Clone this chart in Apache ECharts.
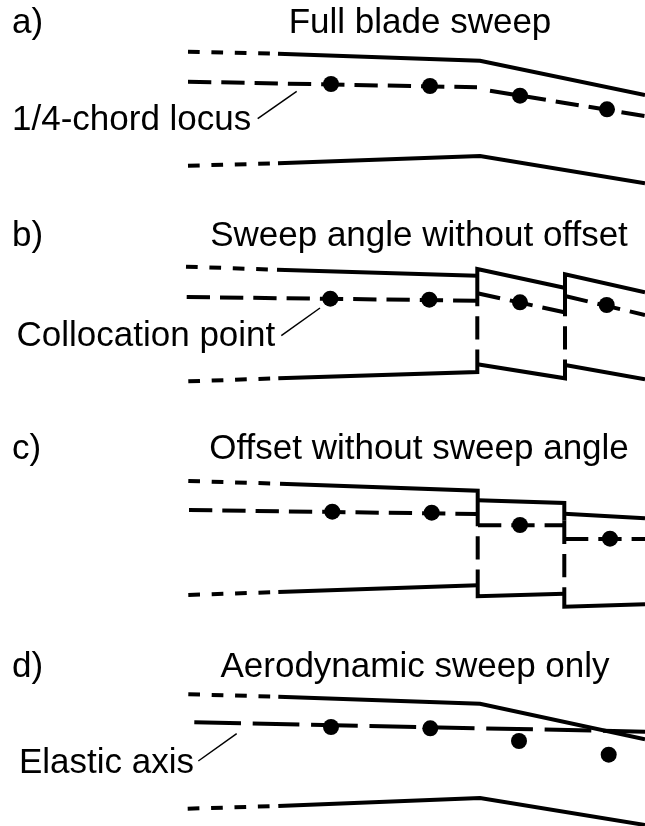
<!DOCTYPE html>
<html lang="en">

<head>
    <meta charset="UTF-8">
    <title>Blade sweep</title>
    <style>
        html, body { margin: 0; padding: 0; background: #fff; }
        #box { width: 645px; height: 826px; }
    </style>
</head>

<body>
    <div id="box"></div>
</body>
<script src="https://cdn.jsdelivr.net/npm/echarts@6/dist/echarts.min.js"></script>
<script>
    // solid outline pieces
    var solidLines = [
        // a
        [[278, 53.7], [480, 60.7], [645, 95]],
        [[278, 163.3], [480, 156], [645, 183.3]],
        // b
        [[277, 269.7], [477.3, 275.7]],
        [[477.3, 283], [477.3, 269], [564.3, 287.7]],
        [[565, 293], [565, 274.3], [645, 292.3]],
        [[278.3, 378.3], [477.3, 372], [477.3, 356]],
        [[477.3, 364.3], [565, 378.3], [565, 363]],
        [[565, 365], [645, 379.3]],
        // c
        [[280, 483.7], [477.7, 490.7], [477.7, 503]],
        [[477.7, 500.3], [564.3, 503], [564.3, 520.7]],
        [[564.3, 513.7], [645, 518.3]],
        [[278.3, 592], [477.7, 585.3]],
        [[477.7, 577], [477.7, 596.3], [564.3, 593.7]],
        [[564.3, 590], [564.3, 606.7], [645, 604.3]],
        // d
        [[278.3, 696.7], [480, 703.7], [645, 739.3]],
        [[278.3, 806], [480, 798], [645, 825]]
    ];
    // short dash tips on the left
    var tipLines = [
        [[188, 51.7], [278, 53.7]],
        [[188, 165.7], [278, 163.3]],
        [[186, 266.7], [277, 269.7]],
        [[188.3, 381.3], [278.3, 378.3]],
        [[188.3, 481], [280, 483.7]],
        [[188.3, 595], [278.3, 592]],
        [[188.3, 694.3], [278.3, 696.7]],
        [[187.7, 808.7], [278.3, 806]]
    ];
    // quarter chord and panel edges
    var chordLines = [
        [[188, 81.7], [477, 87.3]],
        [[490, 90.7], [645, 116]],
        [[186.7, 297], [477, 300.7]],
        [[477.3, 293.3], [564.3, 312.3]],
        [[565, 296], [645, 315]],
        [[189, 510], [477, 514]],
        [[478, 525.3], [564.3, 525.3]],
        [[565, 539], [645, 539]],
        [[477.3, 283], [477.3, 356]],
        [[565, 293], [565, 363]],
        [[477.7, 503], [477.7, 577]],
        [[564.3, 520.7], [564.3, 590]]
    ];
    var elasticAxis = [[194.3, 722.3], [645, 731.7]];
    var leaders = [
        [[296.7, 91.3], [257.7, 118.7]],
        [[320, 308], [281.3, 335.7]],
        [[236.7, 733.7], [198.3, 761]]
    ];
    var collocationPoints = [
        [331, 84], [430, 86], [520, 95.7], [607, 109.3],
        [330.3, 298.7], [429.3, 299.7], [520, 302.3], [606.7, 305],
        [332.3, 511.7], [431.7, 512.7], [520, 525], [610, 538.7],
        [331, 727], [430.3, 728.3], [519, 741], [608.7, 754.7]
    ];
    var panelLetters = ["a)", "b)", "c)", "d)"];
    var letterSpots = [[12, 23], [12, 236.7], [12, 449.3], [12, 667.5]];
    var panelTitles = ["Full blade sweep", "Sweep angle without offset", "Offset without sweep angle", "Aerodynamic sweep only"];
    var titleSpots = [[420, 23], [419, 236.7], [419, 449.3], [415, 667.5]];
    var noteTexts = ["1/4-chord locus", "Collocation point", "Elastic axis"];
    var noteSpots = [[12, 120.7], [16.5, 336.7], [19, 763.3]];

    function lineSeries(points, width, dash) {
        return {
            type: "line",
            data: points,
            symbol: "none",
            silent: true,
            lineStyle: { color: "#000", width: width, type: dash, cap: "butt", join: "miter" }
        };
    }

    function textSeries(texts, spots, align) {
        return {
            type: "scatter",
            symbolSize: 0,
            silent: true,
            itemStyle: { opacity: 1 },
            data: spots.map(function (p, i) { return { value: p, name: texts[i] }; }),
            label: {
                show: true,
                position: "inside",
                formatter: "{b}",
                color: "#000",
                opacity: 1,
                fontFamily: "Liberation Sans",
                fontSize: 35,
                align: align,
                verticalAlign: "middle"
            }
        };
    }

    var series = [];
    solidLines.forEach(function (l) { series.push(lineSeries(l, 4, "solid")); });
    tipLines.forEach(function (l) { series.push(lineSeries(l, 4, [11.7, 11.7])); });
    chordLines.forEach(function (l) { series.push(lineSeries(l, 4, [23.3, 10])); });
    series.push(lineSeries(elasticAxis, 4, [46.7, 11.7]));
    leaders.forEach(function (l) { series.push(lineSeries(l, 1.5, "solid")); });
    series.push({
        type: "scatter",
        data: collocationPoints,
        symbolSize: 16,
        silent: true,
        itemStyle: { color: "#000", opacity: 1 }
    });
    series.push(textSeries(panelLetters, letterSpots, "left"));
    series.push(textSeries(panelTitles, titleSpots, "center"));
    series.push(textSeries(noteTexts, noteSpots, "left"));

    var box = echarts.init(document.getElementById("box"));
    box.setOption({
        animation: false,
        backgroundColor: "#fff",
        grid: { left: 0, right: 0, top: 0, bottom: 0 },
        xAxis: { type: "value", min: 0, max: 645, show: false },
        yAxis: { type: "value", min: 0, max: 826, inverse: true, show: false },
        series: series
    });
</script>

</html>
